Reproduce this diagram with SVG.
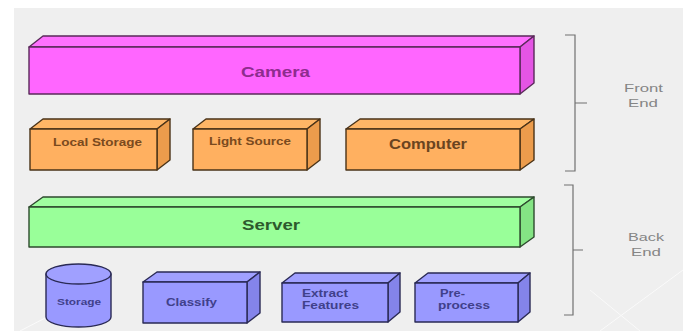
<svg xmlns="http://www.w3.org/2000/svg" width="683" height="333" viewBox="0 0 683 333">
<style>
.t{font-family:"Liberation Sans",Arial,sans-serif;text-anchor:middle;stroke:none}
.b{font-weight:bold}
.box path,.box rect,.box ellipse{stroke-width:1.4;stroke-linejoin:round}
.mag{fill:#ff66ff;stroke:#5a2a5a}
.mag .top{fill:#ff70ff}.mag .side{fill:#e455e4}
.org{fill:#ffb060;stroke:#4a3318}
.org .top{fill:#ffb666}.org .side{fill:#ec9c4c}
.grn{fill:#99ff99;stroke:#2e4a2e}
.grn .top{fill:#a0ffa0}.grn .side{fill:#84e484}
.blu{fill:#9999ff;stroke:#2a2a55}
.blu .top{fill:#a0a0ff}.blu .side{fill:#8484ea}
.br{fill:none;stroke:#707070;stroke-width:1.2}
.lbl{font-size:11px;fill:#858585}
</style>
<rect x="0" y="0" width="683" height="333" fill="#ffffff"/>
<rect x="14" y="8" width="669" height="323" fill="#efefef"/>
<g stroke="#ffffff" stroke-width="1" opacity="0.7" fill="none">
<path d="M600 331 L683 270"/>
<path d="M590 290 L640 331"/>
<path d="M20 331 L80 300"/>
</g>

<g id="camera" class="box mag">
<path class="top" d="M29 47 L43 36 L534 36 L520 47 Z"/>
<path class="side" d="M520 47 L534 36 L534 83 L520 94 Z"/>
<rect x="29" y="47" width="491" height="47"/>
<text class="t b" x="275.5" y="77" font-size="15" fill="#8e2c8e" textLength="69" lengthAdjust="spacingAndGlyphs">Camera</text>
</g>

<g id="local-storage" class="box org">
<path class="top" d="M30 129 L43 119 L170 119 L157 129 Z"/>
<path class="side" d="M157 129 L170 119 L170 160 L157 170 Z"/>
<rect x="30" y="129" width="127" height="41"/>
<text class="t b" x="97.5" y="146" font-size="11" fill="#7a4a1e" textLength="89" lengthAdjust="spacingAndGlyphs">Local Storage</text>
</g>

<g id="light-source" class="box org">
<path class="top" d="M193 129 L206 119 L320 119 L307 129 Z"/>
<path class="side" d="M307 129 L320 119 L320 160 L307 170 Z"/>
<rect x="193" y="129" width="114" height="41"/>
<text class="t b" x="250" y="145" font-size="11" fill="#7a4a1e" textLength="82" lengthAdjust="spacingAndGlyphs">Light Source</text>
</g>

<g id="computer" class="box org">
<path class="top" d="M346 129 L360 119 L534 119 L520 129 Z"/>
<path class="side" d="M520 129 L534 119 L534 160 L520 170 Z"/>
<rect x="346" y="129" width="174" height="41"/>
<text class="t b" x="428" y="149" font-size="15" fill="#6a4420" textLength="78" lengthAdjust="spacingAndGlyphs">Computer</text>
</g>

<g id="server" class="box grn">
<path class="top" d="M29 207 L43 197 L534 197 L520 207 Z"/>
<path class="side" d="M520 207 L534 197 L534 237 L520 247 Z"/>
<rect x="29" y="207" width="491" height="40"/>
<text class="t b" x="271" y="230" font-size="15" fill="#2d5a2d" textLength="58" lengthAdjust="spacingAndGlyphs">Server</text>
</g>

<g id="storage" class="box blu">
<path d="M46 274 L46 317 A32.5 10 0 0 0 111 317 L111 274 Z"/>
<ellipse class="top" cx="78.5" cy="274" rx="32.5" ry="10"/>
<text class="t b" x="79" y="305" font-size="9" fill="#40408a" textLength="44" lengthAdjust="spacingAndGlyphs">Storage</text>
</g>

<g id="classify" class="box blu">
<path class="top" d="M143 282 L157 272 L260 272 L247 282 Z"/>
<path class="side" d="M247 282 L260 272 L260 313 L247 323 Z"/>
<rect x="143" y="282" width="104" height="41"/>
<text class="t b" x="191.5" y="306" font-size="11" fill="#40408a" textLength="51" lengthAdjust="spacingAndGlyphs">Classify</text>
</g>

<g id="extract-features" class="box blu">
<path class="top" d="M282 283 L295 273 L400 273 L388 283 Z"/>
<path class="side" d="M388 283 L400 273 L400 312 L388 322 Z"/>
<rect x="282" y="283" width="106" height="39"/>
<text class="t b" x="325" y="297" font-size="11" fill="#40408a" textLength="46" lengthAdjust="spacingAndGlyphs">Extract</text>
<text class="t b" x="330.5" y="309" font-size="11" fill="#40408a" textLength="57" lengthAdjust="spacingAndGlyphs">Features</text>
</g>

<g id="pre-process" class="box blu">
<path class="top" d="M415 283 L428 273 L530 273 L518 283 Z"/>
<path class="side" d="M518 283 L530 273 L530 312 L518 322 Z"/>
<rect x="415" y="283" width="103" height="39"/>
<text class="t b" x="452.5" y="297" font-size="11" fill="#40408a" textLength="25" lengthAdjust="spacingAndGlyphs">Pre-</text>
<text class="t b" x="464" y="309" font-size="11" fill="#40408a" textLength="52" lengthAdjust="spacingAndGlyphs">process</text>
</g>

<g id="front-end">
<path class="br" d="M565 35 L575 35 L575 171 L565 171 M575 103 L587 103"/>
<text class="t lbl" x="643.5" y="92" textLength="39" lengthAdjust="spacingAndGlyphs">Front</text>
<text class="t lbl" x="643" y="107" textLength="30" lengthAdjust="spacingAndGlyphs">End</text>
</g>

<g id="back-end">
<path class="br" d="M564 185 L573 185 L573 315 L564 315 M573 250 L583 250"/>
<text class="t lbl" x="646" y="241" textLength="36" lengthAdjust="spacingAndGlyphs">Back</text>
<text class="t lbl" x="646" y="256" textLength="30" lengthAdjust="spacingAndGlyphs">End</text>
</g>

<g id="connectors"></g>
</svg>
